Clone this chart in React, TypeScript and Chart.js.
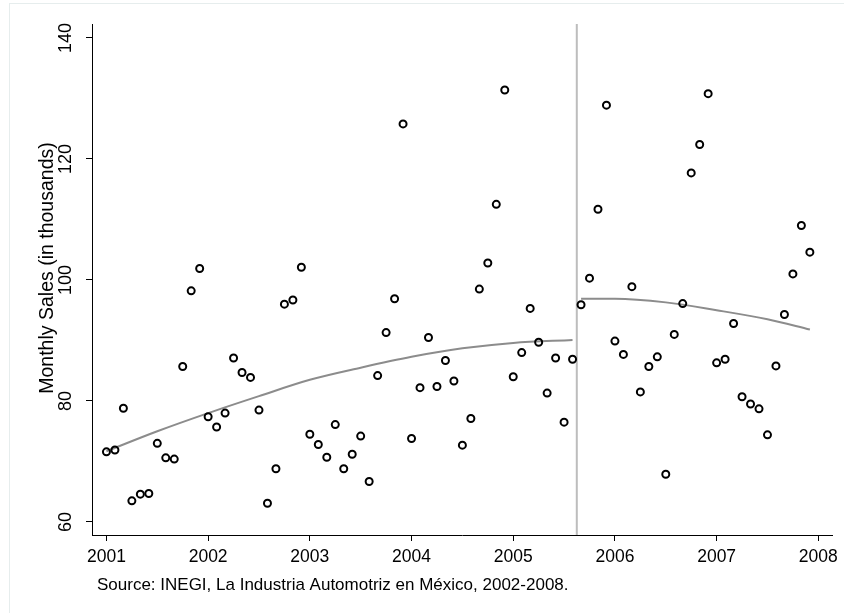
import React, { useEffect, useRef } from "react";
import { Chart, registerables } from "chart.js";

Chart.register(...registerables);

const FONT = "'Liberation Sans', Arial, Helvetica, sans-serif";

// Monthly sales (thousands), Jan..Dec for each year
const startYear = 2001;
const sales2001 = [71.6, 71.9, 78.8, 63.5, 64.6, 64.7, 73.0, 70.6, 70.4, 85.7, 98.2, 101.9];
const sales2002 = [77.4, 75.7, 78.0, 87.1, 84.7, 83.9, 78.5, 63.1, 68.8, 96.0, 96.7, 102.1];
const sales2003 = [74.5, 72.8, 70.7, 76.1, 68.8, 71.2, 74.2, 66.7, 84.2, 91.3, 96.9, 125.8];
const sales2004 = [73.8, 82.2, 90.5, 82.4, 86.7, 83.3, 72.7, 77.1, 98.5, 102.8, 112.5, 131.4];
const sales2005 = [84.0, 88.0, 95.3, 89.7, 81.3, 87.1, 76.5, 86.9, 95.9, 100.3, 111.7, 128.9];
const sales2006 = [89.9, 87.7, 98.9, 81.5, 85.7, 87.3, 67.9, 91.0, 96.1, 117.7, 122.4, 130.8];
const sales2007 = [86.3, 86.9, 92.8, 80.7, 79.5, 78.7, 74.4, 85.8, 94.3, 101.0, 109.0, 104.6];
const salesByYear = [sales2001, sales2002, sales2003, sales2004, sales2005, sales2006, sales2007];

// Fitted trend before and after the break
const fitBeforeX = [2001.0, 2001.5, 2002.0, 2002.5, 2003.0, 2003.5, 2004.0, 2004.5, 2005.0, 2005.583];
const fitBeforeY = [71.7, 75.0, 78.0, 80.8, 83.5, 85.5, 87.3, 88.7, 89.6, 90.1];
const fitAfterX = [2005.667, 2006.0, 2006.5, 2007.0, 2007.5, 2007.917];
const fitAfterY = [96.9, 96.9, 96.3, 95.0, 93.5, 91.8];

const breakX = 2005.625;

const xTicks = [2001, 2002, 2003, 2004, 2005, 2006, 2007, 2008];
const yTicks = [60, 80, 100, 120, 140];
const xMin = 2000.858;
const xMax = 2008.135;
const yMin = 57.85;
const yMax = 142.31;

const yTitle = "Monthly Sales (in thousands)";
const sourceNote = "Source: INEGI, La Industria Automotriz en México, 2002-2008.";

const textPlugin = {
  id: "extraTexts",
  afterDraw(chart: any) {
    const ctx = chart.ctx;
    const area = chart.chartArea;
    ctx.save();
    ctx.fillStyle = "#000";
    ctx.font = `19.5px ${FONT}`;
    ctx.translate(53, 268);
    ctx.rotate(-Math.PI / 2);
    ctx.textAlign = "center";
    ctx.textBaseline = "alphabetic";
    ctx.fillText(yTitle, 0, 0);
    ctx.restore();

    ctx.save();
    ctx.fillStyle = "#000";
    ctx.font = `17px ${FONT}`;
    ctx.textAlign = "left";
    ctx.textBaseline = "alphabetic";
    ctx.fillText(sourceNote, area.left + 5, 589.5);
    ctx.restore();
  },
};

export default function App() {
  const ref = useRef<HTMLCanvasElement | null>(null);

  useEffect(() => {
    if (!ref.current) return;
    const points: { x: number; y: number }[] = [];
    salesByYear.forEach((arr, yi) => {
      arr.forEach((v, m) => points.push({ x: startYear + yi + m / 12, y: v }));
    });
    const before = fitBeforeX.map((x, i) => ({ x, y: fitBeforeY[i] }));
    const after = fitAfterX.map((x, i) => ({ x, y: fitAfterY[i] }));

    const chart = new Chart(ref.current, {
      type: "scatter",
      data: {
        datasets: [
          {
            type: "scatter",
            data: points,
            pointStyle: "circle",
            pointRadius: 3.5,
            pointBorderWidth: 2,
            borderColor: "#000",
            backgroundColor: "rgba(0,0,0,0)",
            pointBackgroundColor: "rgba(0,0,0,0)",
            pointBorderColor: "#000",
          } as any,
          {
            type: "line",
            data: before,
            borderColor: "#8c8c8c",
            borderWidth: 2,
            pointRadius: 0,
            cubicInterpolationMode: "monotone",
            fill: false,
          } as any,
          {
            type: "line",
            data: after,
            borderColor: "#8c8c8c",
            borderWidth: 2,
            pointRadius: 0,
            cubicInterpolationMode: "monotone",
            fill: false,
          } as any,
          {
            type: "line",
            data: [
              { x: breakX, y: yMin },
              { x: breakX, y: yMax },
            ],
            borderColor: "#bdbdbd",
            borderWidth: 2,
            pointRadius: 0,
            fill: false,
          } as any,
        ],
      },
      options: {
        responsive: false,
        animation: false,
        devicePixelRatio: 1,
        layout: { padding: { left: 0, top: 24, right: 11, bottom: 0 } },
        plugins: {
          legend: { display: false },
          tooltip: { enabled: false },
        },
        scales: {
          x: {
            type: "linear",
            min: xMin,
            max: xMax,
            afterBuildTicks: (s: any) => {
              s.ticks = xTicks.map((v) => ({ value: v }));
            },
            afterFit: (s: any) => {
              s.height = 78;
            },
            ticks: {
              color: "#000",
              font: { family: FONT, size: 17.5 },
              padding: 6,
              autoSkip: false,
              maxRotation: 0,
              callback: (v: any) => String(v),
            },
            grid: { drawOnChartArea: false, drawTicks: true, tickLength: 6, color: "#000", lineWidth: 1 },
            border: { display: true, color: "#000", width: 1 },
          },
          y: {
            type: "linear",
            min: yMin,
            max: yMax,
            afterBuildTicks: (s: any) => {
              s.ticks = yTicks.map((v) => ({ value: v }));
            },
            afterFit: (s: any) => {
              s.width = 92;
            },
            ticks: {
              color: "#000",
              font: { family: FONT, size: 18 },
              padding: 5,
              minRotation: 90,
              maxRotation: 90,
              crossAlign: "center",
              autoSkip: false,
              callback: (v: any) => String(v),
            },
            grid: { drawOnChartArea: false, drawTicks: true, tickLength: 6, color: "#000", lineWidth: 1 },
            border: { display: true, color: "#000", width: 1 },
          },
        },
      },
      plugins: [textPlugin],
    });
    return () => chart.destroy();
  }, []);

  return (
    <div style={{ position: "absolute", left: 0, top: 0, width: 844, height: 613, background: "#fff" }}>
      <div
        style={{
          position: "absolute",
          left: 9,
          top: 3,
          right: 0,
          bottom: 0,
          borderLeft: "1px solid #e6eded",
          borderTop: "1px solid #e6eded",
        }}
      />
      <canvas ref={ref} width={844} height={613} style={{ position: "absolute", left: 0, top: 0, width: 844, height: 613 }} />
    </div>
  );
}
